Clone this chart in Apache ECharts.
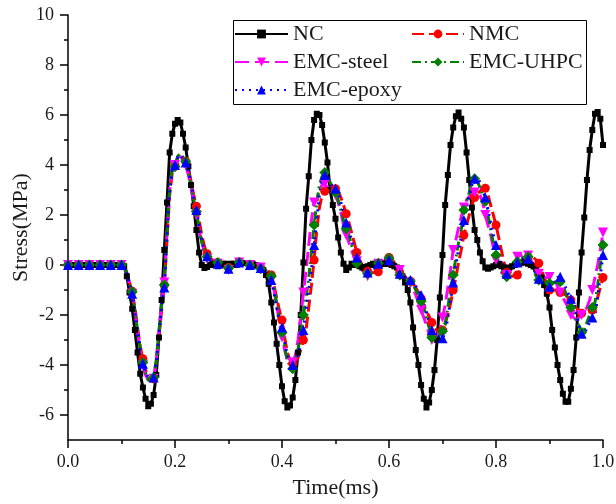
<!DOCTYPE html>
<html>
<head>
<meta charset="utf-8">
<script src="https://cdn.jsdelivr.net/npm/echarts@6/dist/echarts.min.js"></script>
<style>
  html, body { margin: 0; padding: 0; background: #fff; }
  #chart { width: 616px; height: 504px; }
</style>
</head>
<body>
<div id="chart"></div>
<script>
// Sampling grid of the stress histories (ms)
const timeStart = 0;
const timeStep = 0.005;

// Stress (MPa), one value per time step, rows of 0.05 ms
const NC = [
  0, 0, 0, 0, 0, 0, 0, 0, 0, 0,
  0, 0, 0, 0, 0, 0, 0, 0, 0, 0,
  0, -0.05, -0.45, -1.1, -1.75, -2.6, -3.5, -4.35, -4.9, -5.35,
  -5.65, -5.55, -5.2, -4.4, -2.9, -1.4, 0.6, 2.5, 4.5, 5.25,
  5.65, 5.8, 5.7, 5.25, 4.7, 3.95, 3.2, 2.35, 1.4, 0.5,
  0, -0.12, -0.08, 0, 0.05, 0, -0.05, 0, 0.05, 0.05,
  0, 0.05, 0.05, 0, 0.05, 0.08, 0.08, 0.08, 0.07, 0.05,
  0, -0.03, -0.07, -0.2, -0.4, -0.75, -1.5, -2.3, -3.15, -4.0,
  -4.85, -5.45, -5.7, -5.62, -5.3, -4.6, -3.5, -2.0, 0.1, 2.25,
  3.55, 5.0, 5.8, 6.05, 6.0, 5.6, 4.9, 4.1, 3.0, 2.4,
  1.85, 1.1, 0.5, 0.05, -0.2, -0.1, 0.05, 0, 0, -0.05,
  -0.1, -0.08, -0.05, 0, 0.05, 0.05, 0, 0.05, 0.05, 0.05,
  0.05, 0, -0.05, -0.1, -0.2, -0.45, -0.7, -1.0, -1.5, -2.5,
  -3.4, -4.0, -4.8, -5.35, -5.7, -5.5, -5.0, -4.2, -3.0, -1.3,
  0.4, 2.4, 3.6, 4.8, 5.5, 5.95, 6.1, 5.85, 5.5, 4.5,
  3.4, 2.3, 1.4, 1.0, 0.5, 0.15, -0.1, -0.15, -0.1, -0.05,
  0, 0.05, -0.05, -0.1, -0.15, -0.1, -0.05, 0, 0.05, 0.1,
  0.1, 0.1, 0.05, 0, -0.05, -0.15, -0.3, -0.5, -0.8, -1.15,
  -1.7, -2.6, -3.3, -4.0, -4.6, -5.15, -5.47, -5.47, -4.95, -4.2,
  -2.9, -1.1, 0.5, 1.9, 3.4, 4.6, 5.4, 6.05, 6.12, 5.85,
  4.8
];

const NMC = [
  0, 0, 0, 0, 0, 0, 0, 0, 0, 0,
  0, 0, 0, 0, 0, 0, 0, 0, 0, 0,
  0, -0.05, -0.3, -0.7, -1.05, -1.7, -2.5, -3.25, -3.75, -4.2,
  -4.5, -4.65, -4.55, -3.9, -2.85, -1.8, -0.8, 1.0, 2.8, 3.7,
  4.0, 4.3, 4.4, 4.3, 4.15, 3.8, 3.35, 2.8, 2.35, 1.8,
  1.2, 0.75, 0.45, 0.3, 0.2, 0.15, 0.1, 0.05, 0, -0.05,
  -0.1, -0.05, 0.05, 0.1, 0.12, 0.1, 0.05, 0.02, 0, -0.05,
  -0.08, -0.1, -0.1, -0.12, -0.15, -0.25, -0.4, -0.8, -1.3, -1.8,
  -2.2, -2.9, -3.5, -3.8, -3.95, -3.9, -3.7, -3.4, -3.0, -2.6,
  -1.7, -0.8, 0.2, 1.4, 2.3, 2.8, 2.95, 3.05, 3.1, 3.1,
  3.05, 2.95, 2.7, 2.4, 2.05, 1.7, 1.3, 0.9, 0.5, 0.2,
  0.0, -0.15, -0.25, -0.3, -0.3, -0.3, -0.27, -0.1, 0.1, 0.25,
  0.3, 0.25, 0.1, -0.1, -0.3, -0.45, -0.55, -0.6, -0.65, -0.75,
  -0.9, -1.1, -1.35, -1.6, -1.85, -2.05, -2.3, -2.5, -2.65, -2.73,
  -2.6, -2.3, -2.0, -1.55, -1.0, -0.5, 0.1, 0.6, 1.2, 1.6,
  2.0, 2.4, 2.7, 2.85, 2.95, 3.05, 3.07, 2.8, 2.4, 2.0,
  1.6, 1.1, 0.6, 0.1, -0.3, -0.45, -0.45, -0.42, -0.4, -0.2,
  0.05, 0.2, 0.3, 0.35, 0.3, 0.2, 0.07, -0.2, -0.5, -0.75,
  -1.0, -1.0, -1.0, -1.05, -1.1, -1.15, -1.2, -1.3, -1.4, -1.55,
  -1.7, -1.85, -1.93, -1.95, -1.9, -1.85, -1.8, -1.75, -1.3, -0.9,
  -0.5
];

const EMC_steel = [
  0, 0, 0, 0, 0, 0, 0, 0, 0, 0,
  0, 0, 0, 0, 0, 0, 0, 0, 0, 0,
  0, -0.05, -0.35, -0.8, -1.15, -1.85, -2.65, -3.45, -4.0, -4.4,
  -4.6, -4.7, -4.55, -3.8, -2.6, -1.5, -0.7, 1.3, 3.0, 3.9,
  4.0, 4.3, 4.35, 4.2, 4.0, 3.6, 3.1, 2.55, 2.0, 1.4,
  0.9, 0.5, 0.25, 0.2, 0.1, 0.05, 0.05, 0, -0.1, -0.15,
  -0.2, -0.05, 0.05, 0.1, 0.1, 0.05, 0, 0, 0, -0.05,
  -0.1, -0.1, -0.1, -0.15, -0.25, -0.4, -0.6, -1.0, -1.6, -2.3,
  -2.9, -3.4, -3.8, -3.95, -3.9, -3.6, -3.0, -2.1, -1.1, -0.2,
  0.8, 1.8, 2.5, 2.6, 3.0, 3.2, 3.25, 3.1, 2.95, 2.85,
  2.8, 2.5, 2.1, 1.6, 1.2, 0.9, 0.6, 0.3, 0.15, -0.05,
  -0.2, -0.35, -0.45, -0.4, -0.3, -0.1, 0.05, 0.15, 0.2, 0.2,
  0.15, 0.05, -0.05, -0.15, -0.2, -0.3, -0.45, -0.6, -0.75, -0.95,
  -1.2, -1.5, -1.8, -2.1, -2.4, -2.75, -3.0, -3.1, -2.95, -2.6,
  -2.1, -1.6, -0.9, -0.2, 0.6, 1.0, 1.5, 1.93, 2.3, 2.6,
  2.75, 2.85, 2.9, 2.93, 2.8, 2.5, 2.0, 1.6, 1.2, 0.7,
  0.2, -0.13, -0.3, -0.4, -0.4, -0.3, -0.1, 0.1, 0.33, 0.38,
  0.4, 0.4, 0.38, 0.2, 0, -0.2, -0.35, -0.45, -0.5, -0.5,
  -0.48, -0.47, -0.6, -0.85, -1.1, -1.3, -1.5, -1.7, -2.0, -2.1,
  -2.2, -2.1, -2.0, -1.9, -1.7, -1.4, -1.0, -0.5, 0.0, 0.6,
  1.3
];

const EMC_UHPC = [
  0, 0, 0, 0, 0, 0, 0, 0, 0, 0,
  0, 0, 0, 0, 0, 0, 0, 0, 0, 0,
  0, -0.05, -0.3, -0.75, -1.07, -1.8, -2.6, -3.35, -3.9, -4.3,
  -4.6, -4.65, -4.5, -3.8, -2.7, -1.6, -0.8, 1.2, 3.1, 3.9,
  3.93, 4.35, 4.45, 4.3, 4.13, 3.7, 3.15, 2.6, 2.13, 1.5,
  0.9, 0.55, 0.33, 0.2, 0.15, 0.1, 0.1, 0.05, 0, -0.05,
  -0.13, -0.05, 0.05, 0.1, 0.1, 0.05, 0.02, 0, 0, -0.05,
  -0.1, -0.13, -0.15, -0.2, -0.25, -0.3, -0.45, -0.9, -1.5, -2.1,
  -2.7, -3.3, -3.8, -4.05, -4.15, -3.9, -3.4, -2.7, -2.0, -1.3,
  -0.5, 0.5, 1.6, 2.5, 3.2, 3.55, 3.7, 3.55, 3.3, 3.1,
  2.9, 2.6, 2.2, 1.8, 1.45, 1.2, 0.8, 0.4, 0.07, -0.1,
  -0.2, -0.3, -0.35, -0.3, -0.2, -0.05, 0.07, 0.15, 0.2, 0.25,
  0.27, 0.2, 0.0, -0.2, -0.4, -0.5, -0.55, -0.6, -0.65, -0.8,
  -1.0, -1.2, -1.45, -1.7, -2.1, -2.5, -2.9, -3.0, -2.95, -2.8,
  -2.65, -2.4, -1.7, -1.0, -0.4, 0.3, 0.9, 1.4, 2.2, 2.55,
  2.9, 3.3, 3.45, 3.35, 3.1, 2.8, 2.55, 2.0, 1.4, 0.9,
  0.4, 0.1, -0.2, -0.4, -0.47, -0.35, -0.15, 0, 0.13, 0.2,
  0.3, 0.35, 0.33, 0.1, -0.2, -0.45, -0.6, -0.65, -0.7, -0.72,
  -0.73, -0.72, -0.7, -0.68, -0.67, -0.8, -1.1, -1.4, -1.7, -1.95,
  -2.2, -2.45, -2.7, -2.6, -2.3, -2.0, -1.7, -1.5, -0.8, 0.0,
  0.8
];

const EMC_epoxy = [
  0, 0, 0, 0, 0, 0, 0, 0, 0, 0,
  0, 0, 0, 0, 0, 0, 0, 0, 0, 0,
  0, -0.05, -0.35, -0.8, -1.15, -1.85, -2.65, -3.4, -3.95, -4.3,
  -4.5, -4.6, -4.5, -3.85, -2.8, -1.7, -0.9, 1.1, 2.9, 3.8,
  4.0, 4.3, 4.4, 4.25, 4.1, 3.75, 3.25, 2.7, 2.2, 1.6,
  1.0, 0.6, 0.35, 0.2, 0.15, 0.1, 0.05, 0, -0.05, -0.1,
  -0.15, -0.05, 0.05, 0.1, 0.1, 0.05, 0.02, 0, 0, -0.05,
  -0.1, -0.1, -0.12, -0.15, -0.2, -0.3, -0.6, -1.1, -1.7, -2.2,
  -2.5, -3.1, -3.6, -3.9, -4.0, -3.95, -3.6, -3.2, -2.6, -1.8,
  -1.0, -0.2, 0.8, 1.8, 2.8, 3.4, 3.6, 3.5, 3.3, 3.1,
  3.05, 2.9, 2.5, 2.1, 1.7, 1.4, 1.0, 0.6, 0.3, 0.0,
  -0.15, -0.25, -0.3, -0.25, -0.15, -0.05, 0.05, 0.1, 0.15, 0.2,
  0.2, 0.1, -0.05, -0.2, -0.35, -0.45, -0.5, -0.55, -0.6, -0.7,
  -0.85, -1.0, -1.2, -1.5, -1.9, -2.3, -2.6, -2.75, -2.85, -2.9,
  -2.93, -2.7, -2.1, -1.4, -0.7, 0.0, 0.6, 1.1, 1.8, 2.3,
  2.8, 3.2, 3.45, 3.5, 3.3, 3.0, 2.7, 2.2, 1.7, 1.2,
  0.8, 0.5, 0.1, -0.2, -0.35, -0.3, -0.15, 0, 0.1, 0.2,
  0.25, 0.3, 0.25, 0.1, -0.15, -0.35, -0.55, -0.7, -0.8, -0.85,
  -0.87, -0.8, -0.65, -0.5, -0.47, -0.6, -0.9, -1.15, -1.35, -1.5,
  -1.9, -2.4, -2.75, -2.75, -2.5, -2.3, -2.1, -2.0, -1.3, -0.4,
  0.4
];

const yMajorTicks = [-6, -4, -2, 0, 2, 4, 6, 8, 10];
const yMinorTicks = [-5, -3, -1, 1, 3, 5, 7, 9];

const FONT = "'Liberation Serif', 'Times New Roman', 'DejaVu Serif', serif";
const TEXT = '#1a1a1a';

// Build [time, stress] pairs; markers only on every `every`-th sample
function toPoints(values, symbol, every) {
  return values.map((v, i) => ({
    value: [+(timeStart + i * timeStep).toFixed(3), v],
    symbol: i % every === 0 ? symbol : 'none'
  }));
}

function lineSeries(name, values, color, dash, symbol, size, every, extra) {
  return Object.assign({
    name: name,
    type: 'line',
    data: toPoints(values, symbol, every),
    symbol: symbol,
    symbolSize: size,
    showSymbol: true,
    showAllSymbol: true,
    lineStyle: { color: color, width: 3, type: dash },
    itemStyle: { color: color },
    emphasis: { disabled: true },
    animation: false
  }, extra || {});
}

const legendCommon = {
  orient: 'vertical',
  top: 23,
  padding: 0,
  itemHeight: 11,
  itemGap: 6,
  selectedMode: false,
  textStyle: { fontFamily: FONT, fontSize: 22, lineHeight: 22, color: TEXT },
  z: 5
};

const chart = echarts.init(document.getElementById('chart'), null, { renderer: 'canvas' });

chart.setOption({
  backgroundColor: '#ffffff',
  animation: false,
  grid: { left: 68, right: 13, top: 15, bottom: 64, containLabel: false, outerBoundsMode: 'none' },
  xAxis: {
    type: 'value',
    min: 0,
    max: 1,
    interval: 0.2,
    name: 'Time(ms)',
    nameLocation: 'middle',
    nameGap: 37,
    nameMoveOverlap: false,
    nameTextStyle: { fontFamily: FONT, fontSize: 22, color: TEXT },
    axisLine: { show: true, onZero: false, lineStyle: { color: '#000', width: 1.5 } },
    axisTick: { show: true, inside: false, length: 8, lineStyle: { color: '#000', width: 1.5 } },
    minorTick: { show: true, splitNumber: 2, length: 4, lineStyle: { color: '#000', width: 1.5 } },
    axisLabel: {
      margin: 13,
      fontFamily: FONT, fontSize: 18, color: TEXT,
      formatter: v => v.toFixed(1)
    },
    splitLine: { show: false }
  },
  yAxis: [{
    type: 'value',
    min: -7,
    max: 10,
    name: 'Stress(MPa)',
    nameLocation: 'middle',
    nameGap: 36,
    nameRotate: 90,
    nameMoveOverlap: false,
    nameTextStyle: { fontFamily: FONT, fontSize: 22, color: TEXT },
    axisLine: { show: true, onZero: false, lineStyle: { color: '#000', width: 1.5 } },
    axisTick: { show: true, inside: false, length: 8, customValues: yMajorTicks, lineStyle: { color: '#000', width: 1.5 } },
    axisLabel: { margin: 14, fontFamily: FONT, fontSize: 18, color: TEXT, customValues: yMajorTicks },
    splitLine: { show: false }
  }, {
    type: 'value',
    min: -7,
    max: 10,
    position: 'left',
    axisLine: { show: false },
    axisTick: { show: true, inside: false, length: 4, customValues: yMinorTicks, lineStyle: { color: '#000', width: 1.5 } },
    axisLabel: { show: false },
    splitLine: { show: false }
  }],
  legend: [
    Object.assign({ data: ['NC', 'EMC-steel', 'EMC-epoxy'], left: 234, itemWidth: 53 }, legendCommon),
    Object.assign({ data: ['NMC', 'EMC-UHPC'], left: 411, itemWidth: 52 }, legendCommon)
  ],
  graphic: [{
    type: 'rect',
    left: 233,
    top: 20,
    shape: { width: 353, height: 84 },
    style: { fill: '#ffffff', stroke: '#000000', lineWidth: 1 },
    z: 3
  }],
  series: [
    lineSeries('NC', NC, '#000000', 'solid', 'rect', 6, 1),
    lineSeries('NMC', NMC, '#ff0000', [12, 5], 'circle', 9, 4),
    lineSeries('EMC-steel', EMC_steel, '#ff00ff', [14, 6], 'triangle', 10, 4, { symbolRotate: 180 }),
    lineSeries('EMC-UHPC', EMC_UHPC, '#008000', [9, 4, 2, 4], 'diamond', 11, 4),
    lineSeries('EMC-epoxy', EMC_epoxy, '#0000ff', [2, 5], 'triangle', 10, 4)
  ]
});
</script>
</body>
</html>
